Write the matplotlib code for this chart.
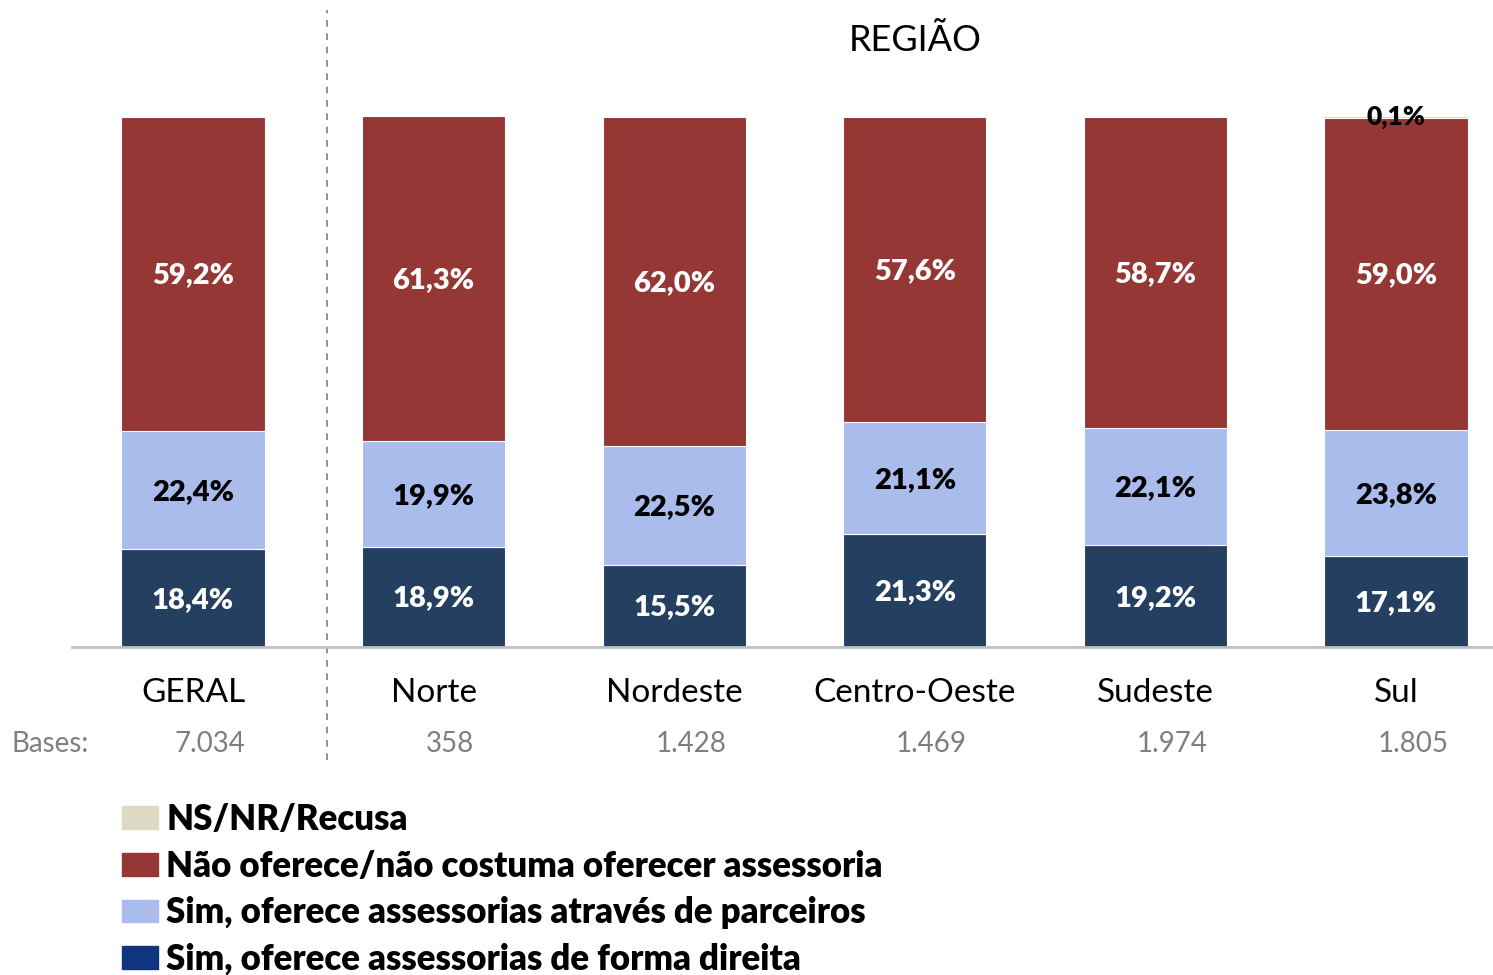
import matplotlib.pyplot as plt
from matplotlib.patches import Patch
from matplotlib.transforms import blended_transform_factory

plt.rcParams['font.family'] = ['Lato', 'DejaVu Sans']

# Data
categories = ['GERAL', 'Norte', 'Nordeste', 'Centro-Oeste', 'Sudeste', 'Sul']
bases = ['7.034', '358', '1.428', '1.469', '1.974', '1.805']
direta = [18.4, 18.9, 15.5, 21.3, 19.2, 17.1]
parceiros = [22.4, 19.9, 22.5, 21.1, 22.1, 23.8]
nao_oferece = [59.2, 61.3, 62.0, 57.6, 58.7, 59.0]
ns_nr = [0, 0, 0, 0, 0, 0.1]

series_labels = ['NS/NR/Recusa',
                 'Não oferece/não costuma oferecer assessoria',
                 'Sim, oferece assessorias através de parceiros',
                 'Sim, oferece assessorias de forma direita']

c_direta = '#243F60'
c_direta_leg = '#10357F'
c_parc = '#A9BCEB'
c_nao = '#953735'
c_ns = '#DDD9C3'


def main():
    fig = plt.figure(figsize=(14.93, 9.75), dpi=100)
    ax = fig.add_axes([72 / 1493, 328 / 975, 1421 / 1493, 530 / 975])

    x = list(range(len(categories)))
    w = 0.595

    bottoms = [0] * len(x)
    stacks = [(direta, c_direta, 'white'), (parceiros, c_parc, 'black'),
              (nao_oferece, c_nao, 'white')]
    for vals, col, tcol in stacks:
        ax.bar(x, vals, w, bottom=bottoms, color=col, edgecolor='white', linewidth=0.8)
        for i, v in enumerate(vals):
            ax.text(x[i], bottoms[i] + v / 2 - 0.3, f'{v:.1f}%'.replace('.', ','),
                    ha='center', va='center', color=tcol, fontsize=21, fontweight='heavy')
        bottoms = [b + v for b, v in zip(bottoms, vals)]

    ax.bar(x, ns_nr, w, bottom=bottoms, color=c_ns, linewidth=0)
    for i, v in enumerate(ns_nr):
        if v > 0:
            ax.text(x[i], bottoms[i] + v, f'{v:.1f}%'.replace('.', ','),
                    ha='center', va='center', color='black', fontsize=19, fontweight='heavy')

    ax.set_xlim(-0.503, 5.403)
    ax.set_ylim(0, 100)
    for s in ['top', 'right', 'left']:
        ax.spines[s].set_visible(False)
    ax.spines['bottom'].set_color('#BFBFBF')
    ax.spines['bottom'].set_linewidth(2)
    ax.set_xticks([])
    ax.set_yticks([])

    # separator between GERAL and regions
    ax.axvline(0.557, ymin=-0.213, ymax=1.202, color='#7F7F7F', linestyle=(0, (4, 4)),
               linewidth=1.2, clip_on=False)

    trans = blended_transform_factory(ax.transData, ax.transAxes)
    for i, cat in enumerate(categories):
        ax.text(x[i], -0.087, cat, transform=trans, ha='center', va='center',
                fontsize=24, color='black')
        ax.text(x[i] + 0.07, -0.183, bases[i], transform=trans, ha='center', va='center',
                fontsize=20, color='#7F7F7F')
    fig.text(12 / 1493, (975 - 744) / 975, 'Bases:', ha='left', va='center',
             fontsize=20, color='#7F7F7F')

    ax.text(3, 1.145, 'REGIÃO', transform=trans, ha='center', va='center', fontsize=26)

    handles = [Patch(color=c_ns), Patch(color=c_nao), Patch(color=c_parc),
               Patch(color=c_direta_leg)]
    fig.legend(handles, series_labels, loc='upper left',
               bbox_to_anchor=(122 / 1493, 172 / 975), frameon=False,
               prop={'size': 25, 'weight': 'heavy'}, handlelength=1.04,
               handleheight=0.63, handletextpad=0.23, labelspacing=0.39,
               borderpad=0, borderaxespad=0)

    fig.savefig('out.png', dpi=100)


if __name__ == '__main__':
    main()
